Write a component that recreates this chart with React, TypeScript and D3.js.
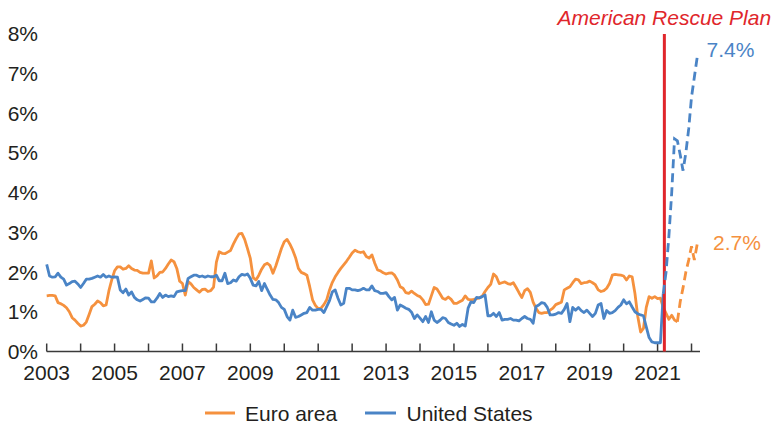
import React from "react";
import * as d3 from "d3";

// monthly readings, Jan 2003 onward (percent)
const euroActual = [
  1.40, 1.41, 1.41, 1.40, 1.23, 1.20, 1.16, 1.10, 1.00, 0.85, 0.79, 0.71, // 2003
  0.64, 0.66, 0.74, 0.93, 1.13, 1.19, 1.27, 1.23, 1.15, 1.17, 1.53, 1.80, // 2004
  2.03, 2.13, 2.13, 2.07, 2.09, 2.16, 2.09, 2.05, 2.04, 1.99, 1.97, 1.97, // 2005
  1.97, 2.28, 1.85, 1.90, 1.99, 2.00, 2.09, 2.20, 2.30, 2.26, 2.09, 1.77, // 2006
  1.71, 1.42, 1.76, 1.70, 1.61, 1.55, 1.49, 1.56, 1.57, 1.51, 1.53, 1.62, // 2007
  2.25, 2.51, 2.47, 2.46, 2.50, 2.54, 2.70, 2.84, 2.96, 2.97, 2.82, 2.59, // 2008
  2.34, 1.86, 1.80, 1.92, 2.07, 2.18, 2.22, 2.16, 1.97, 2.15, 2.37, 2.59, // 2009
  2.76, 2.82, 2.70, 2.55, 2.36, 2.09, 1.99, 1.96, 1.92, 1.63, 1.30, 1.16, // 2010
  1.08, 1.09, 1.18, 1.30, 1.55, 1.74, 1.88, 1.99, 2.09, 2.18, 2.27, 2.37, // 2011
  2.48, 2.55, 2.51, 2.49, 2.51, 2.39, 2.35, 2.43, 2.22, 2.05, 2.03, 1.98, // 2012
  1.95, 1.97, 1.98, 1.92, 1.80, 1.63, 1.59, 1.48, 1.46, 1.52, 1.46, 1.41, // 2013
  1.38, 1.30, 1.18, 1.19, 1.40, 1.61, 1.57, 1.46, 1.34, 1.31, 1.37, 1.31, // 2014
  1.21, 1.21, 1.25, 1.29, 1.40, 1.31, 1.30, 1.31, 1.33, 1.35, 1.39, 1.51, // 2015
  1.61, 1.69, 1.95, 1.88, 1.71, 1.73, 1.75, 1.71, 1.69, 1.73, 1.61, 1.48, // 2016
  1.36, 1.53, 1.58, 1.49, 1.24, 1.09, 0.98, 0.96, 0.98, 0.98, 1.04, 1.09, // 2017
  1.18, 1.21, 1.24, 1.55, 1.59, 1.63, 1.73, 1.82, 1.80, 1.71, 1.73, 1.74, // 2018
  1.77, 1.73, 1.68, 1.55, 1.51, 1.53, 1.59, 1.71, 1.92, 1.94, 1.93, 1.92, // 2019
  1.90, 1.80, 1.90, 1.88, 1.46, 0.88, 0.49, 0.58, 1.11, 1.38, 1.34, 1.38, // 2020
  1.33, 1.34, 1.11, 0.96, 0.81, 0.91, 0.79, 0.75, // 2021 to Aug
];
// Aug 2021 .. Mar 2022
const euroProjected = [0.75, 1.25, 1.6, 2.0, 2.3, 2.65, 2.3, 2.7];

const usActual = [
  2.19, 1.90, 1.87, 1.88, 1.97, 1.87, 1.82, 1.67, 1.71, 1.76, 1.77, 1.70, // 2003
  1.61, 1.71, 1.82, 1.82, 1.84, 1.87, 1.90, 1.87, 1.94, 1.87, 1.90, 1.87, // 2004
  1.88, 1.87, 1.55, 1.48, 1.57, 1.42, 1.50, 1.36, 1.30, 1.27, 1.31, 1.35, // 2005
  1.34, 1.25, 1.25, 1.34, 1.46, 1.36, 1.42, 1.38, 1.40, 1.38, 1.50, 1.52, // 2006
  1.53, 1.53, 1.84, 1.88, 1.92, 1.92, 1.88, 1.90, 1.87, 1.90, 1.88, 1.88, // 2007
  1.92, 1.78, 1.78, 1.97, 1.71, 1.73, 1.80, 1.77, 1.88, 1.94, 1.92, 1.95, // 2008
  1.84, 1.67, 1.65, 1.76, 1.53, 1.71, 1.56, 1.42, 1.31, 1.30, 1.23, 1.11, // 2009
  1.06, 0.88, 0.79, 1.04, 0.86, 0.88, 0.92, 0.96, 0.98, 1.11, 1.04, 1.04, // 2010
  1.06, 1.06, 0.98, 1.13, 1.28, 1.50, 1.55, 1.34, 1.17, 1.21, 1.59, 1.59, // 2011
  1.55, 1.55, 1.53, 1.55, 1.59, 1.55, 1.55, 1.65, 1.53, 1.51, 1.46, 1.46, // 2012
  1.48, 1.38, 1.30, 1.36, 1.04, 1.17, 1.13, 1.09, 1.06, 0.99, 0.83, 0.92, // 2013
  0.84, 0.75, 0.88, 0.73, 1.00, 0.79, 0.73, 0.78, 0.85, 0.83, 0.73, 0.69, // 2014
  0.66, 0.71, 0.63, 0.68, 0.64, 1.09, 1.25, 1.23, 1.36, 1.35, 1.38, 1.42, // 2015
  0.90, 0.90, 0.96, 0.88, 0.98, 0.79, 0.81, 0.81, 0.83, 0.79, 0.79, 0.77, // 2016
  0.83, 0.88, 0.83, 0.81, 0.71, 1.13, 1.17, 1.23, 1.21, 1.11, 0.92, 0.92, // 2017
  0.94, 0.98, 0.96, 1.06, 1.21, 0.75, 1.11, 1.04, 1.11, 1.03, 0.98, 1.04, // 2018
  0.96, 0.88, 0.96, 1.17, 1.21, 0.83, 1.03, 0.96, 0.98, 1.03, 1.11, 1.17, // 2019
  1.30, 1.20, 1.25, 1.12, 1.00, 0.95, 0.92, 0.90, 0.62, 0.35, 0.24, 0.22, // 2020
  0.22, 0.22, 1.45, // 2021 to Mar
];
// Mar 2021 .. Mar 2022
const usProjected = [1.45, 2.0, 2.9, 4.0, 5.35, 5.3, 4.95, 4.55, 5.0, 5.6, 6.4, 6.9, 7.4];

const yTicks = [0, 1, 2, 3, 4, 5, 6, 7, 8];
const yearTicks = d3.range(2003, 2023);
const yearLabels = d3.range(2003, 2022, 2);
const planDate = 2021.2;

const ORANGE = "#f5913e";
const BLUE = "#4a84c6";
const RED = "#e0262b";
const TEXT = "#231f20";
const FONT = "'Liberation Sans', Arial, Helvetica, sans-serif";

export default function App() {
  const x = d3.scaleLinear().domain([2003, 2022.25]).range([46.7, 700]);
  const y = d3.scaleLinear().domain([0, 8]).range([351.5, 33.5]);

  const line = d3
    .line<[number, number]>()
    .x((d) => x(d[0]))
    .y((d) => y(d[1]));

  const toPts = (vals: number[], start: number) =>
    vals.map((v, i) => [2003 + (start + i) / 12, v] as [number, number]);

  const euroA = line(toPts(euroActual, 0));
  const euroP = line(toPts(euroProjected, euroActual.length - 1));
  const usA = line(toPts(usActual, 0));
  const usP = line(toPts(usProjected, usActual.length - 1));

  return (
    <svg
      width={778}
      height={425}
      style={{ position: "absolute", left: 0, top: 0, background: "#fff" }}
      fontFamily={FONT}
    >
      {/* y labels */}
      {yTicks.map((t) => (
        <text key={t} x={38} y={y(t)} dy="0.36em" textAnchor="end" fontSize={21} fill={TEXT}>
          {t}%
        </text>
      ))}

      {/* x axis */}
      <line x1={x(2003)} x2={700} y1={351.5} y2={351.5} stroke="#3a3a3a" strokeWidth={1.5} />
      {yearTicks.map((t) => (
        <line key={t} x1={x(t)} x2={x(t)} y1={351.5} y2={343.5} stroke="#3a3a3a" strokeWidth={1.5} />
      ))}
      {yearLabels.map((t) => (
        <text key={t} x={x(t)} y={380} textAnchor="middle" fontSize={21} fill={TEXT}>
          {t}
        </text>
      ))}

      {/* series */}
      <path d={euroA ?? ""} fill="none" stroke={ORANGE} strokeWidth={2.8} strokeLinejoin="round" />
      <path d={usA ?? ""} fill="none" stroke={BLUE} strokeWidth={2.8} strokeLinejoin="round" />

      {/* American Rescue Plan marker */}
      <line x1={x(planDate)} x2={x(planDate)} y1={34} y2={351.5} stroke={RED} strokeWidth={3} />
      <text x={x(planDate)} y={25} textAnchor="middle" fontSize={21} fontStyle="italic" fill={RED}>
        American Rescue Plan
      </text>

      <path d={euroP ?? ""} fill="none" stroke={ORANGE} strokeWidth={2.8} strokeDasharray="9,5" />
      <path d={usP ?? ""} fill="none" stroke={BLUE} strokeWidth={2.8} strokeDasharray="9,5" />

      {/* end labels */}
      <text x={706.5} y={56.5} fontSize={21} fill={BLUE}>
        {usProjected[usProjected.length - 1]}%
      </text>
      <text x={713} y={250} fontSize={21} fill={ORANGE}>
        {euroProjected[euroProjected.length - 1]}%
      </text>

      {/* legend */}
      <line x1={205} x2={235} y1={413} y2={413} stroke={ORANGE} strokeWidth={3} />
      <text x={245} y={420.5} fontSize={21} fill={TEXT}>
        Euro area
      </text>
      <line x1={365} x2={396} y1={413} y2={413} stroke={BLUE} strokeWidth={3} />
      <text x={406.5} y={420.5} fontSize={21} fill={TEXT}>
        United States
      </text>
    </svg>
  );
}
